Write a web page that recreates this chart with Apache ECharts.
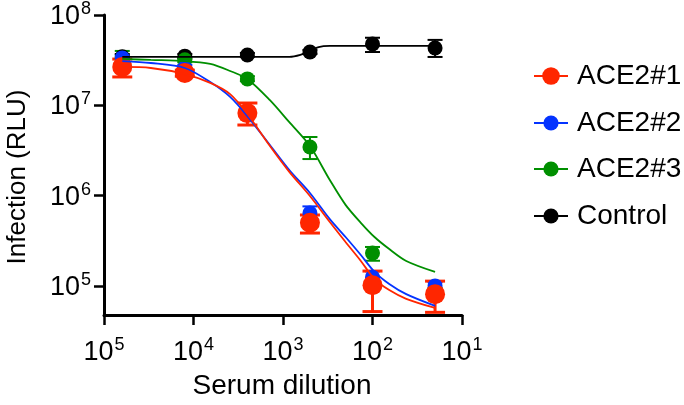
<!DOCTYPE html>
<html><head><meta charset="utf-8">
<script src="https://cdn.jsdelivr.net/npm/echarts@6/dist/echarts.min.js"></script>
<style>html,body{margin:0;padding:0;background:#fff}#c{width:684px;height:405px}</style>
</head><body><div id="c"></div>
<script>
// ---- data ----
var dilutions = [62500, 12500, 2500, 500, 100, 20];

var ace1Mean = [2.66e7, 2.28e7, 8.2e6, 5.0e5, 1.02e5, 8.1e4];
var ace1Lo   = [2.06e7, 2.1e7, 6.05e6, 3.85e5, 5.2e4, 5.1e4];
var ace1Hi   = [3.25e7, 2.45e7, 1.06e7, 6.1e5, 1.46e5, 1.13e5];

var ace2Mean = [3.35e7, 2.6e7, 8.6e6, 6.4e5, 1.25e5, 1.0e5];
var ace2Lo   = [3.0e7, 2.4e7, 7.8e6, 5.6e5, 1.1e5, 9.0e4];
var ace2Hi   = [3.6e7, 2.8e7, 9.4e6, 7.6e5, 1.45e5, 1.1e5];

var ace3Mean = [3.3e7, 3.2e7, 1.96e7, 3.45e6, 2.31e5, 9.0e4];
var ace3Lo   = [2.7e7, 3.0e7, 1.85e7, 2.54e6, 1.9e5, 8.5e4];
var ace3Hi   = [4.0e7, 3.4e7, 2.1e7, 4.46e6, 2.7e5, 9.5e4];

var ctrlMean = [3.45e7, 3.5e7, 3.61e7, 3.89e7, 4.77e7, 4.31e7];
var ctrlLo   = [3.2e7, 3.3e7, 3.45e7, 3.7e7, 3.89e7, 3.43e7];
var ctrlHi   = [3.7e7, 3.7e7, 3.8e7, 4.1e7, 5.6e7, 5.3e7];

// fitted curves
var fitX    = [62500, 30000, 12500, 6500, 3900, 2500, 1400, 850, 500, 300, 200, 135, 95, 65, 42, 20];
var ace1Fit = [2.66e7, 2.59e7, 2.22e7, 1.77e7, 1.33e7, 8.0e6, 3.54e6, 1.83e6, 9.9e5, 5.1e5, 3.06e5, 1.89e5, 1.19e5, 9.0e4, 7.2e4, 5.7e4];
var ace2Fit = [3.09e7, 2.94e7, 2.59e7, 1.81e7, 1.24e7, 7.6e6, 3.63e6, 1.92e6, 1.07e6, 5.5e5, 3.48e5, 2.2e5, 1.43e5, 1.05e5, 8.1e4, 6.0e4];
var ace3Fit = [3.26e7, 3.18e7, 3.09e7, 2.87e7, 2.40e7, 1.96e7, 1.14e7, 6.5e6, 3.54e6, 1.49e6, 7.9e5, 5.0e5, 3.48e5, 2.56e5, 1.89e5, 1.43e5];
var ctrlFitX = [62500, 12500, 2500, 850, 640, 500, 400, 300, 100, 20];
var ctrlFit  = [3.43e7, 3.43e7, 3.43e7, 3.43e7, 3.61e7, 3.99e7, 4.42e7, 4.54e7, 4.54e7, 4.54e7];

var seriesNames = ['ACE2#1', 'ACE2#2', 'ACE2#3', 'Control'];
var xTitle = 'Serum dilution';
var yTitle = 'Infection (RLU)';

// ---- styling ----
var FONT = '"Liberation Sans", Arial, Helvetica, sans-serif';
var colors = {'ACE2#1': '#FF2600', 'ACE2#2': '#0433FF', 'ACE2#3': '#008F00', 'Control': '#000000'};

function zip(a, b) { return a.map(function (v, i) { return [v, b[i]]; }); }
function zip3(a, b, c) { return a.map(function (v, i) { return [v, b[i], c[i]]; }); }

function supLabel(v) {
  var e = Math.round(Math.log(v) / Math.LN10);
  return '{b|10}{s|' + e + '}';
}
var rich = {
  b: {fontSize: 27, fontFamily: FONT, color: '#000', lineHeight: 30, verticalAlign: 'bottom'},
  s: {fontSize: 18, fontFamily: FONT, color: '#000', lineHeight: 30, verticalAlign: 'top', padding: [0, 0, 0, 1]}
};

function errRender(color, capW, lw) {
  return function (params, api) {
    var x = api.value(0), lo = api.value(1), hi = api.value(2);
    var a = api.coord([x, lo]), b = api.coord([x, hi]);
    var h = capW / 2;
    var style = {stroke: color, lineWidth: lw, fill: null};
    return {type: 'group', children: [
      {type: 'line', shape: {x1: a[0], y1: a[1], x2: b[0], y2: b[1]}, style: style},
      {type: 'line', shape: {x1: a[0] - h, y1: a[1], x2: a[0] + h, y2: a[1]}, style: style},
      {type: 'line', shape: {x1: b[0] - h, y1: b[1], x2: b[0] + h, y2: b[1]}, style: style}
    ]};
  };
}

var groups = [
  {name: 'Control', fitX: ctrlFitX, fit: ctrlFit, mean: ctrlMean, lo: ctrlLo, hi: ctrlHi, size: 15, cap: 15, elw: 2},
  {name: 'ACE2#3', fitX: fitX, fit: ace3Fit, mean: ace3Mean, lo: ace3Lo, hi: ace3Hi, size: 15, cap: 15, elw: 2},
  {name: 'ACE2#2', fitX: fitX, fit: ace2Fit, mean: ace2Mean, lo: ace2Lo, hi: ace2Hi, size: 15, cap: 15, elw: 2},
  {name: 'ACE2#1', fitX: fitX, fit: ace1Fit, mean: ace1Mean, lo: ace1Lo, hi: ace1Hi, size: 20, cap: 20, elw: 3}
];

var series = [];
groups.forEach(function (g) {
  var c = colors[g.name];
  series.push({
    type: 'line', name: g.name, data: zip(g.fitX, g.fit), xAxisIndex: 0, yAxisIndex: 0,
    symbol: 'none', smooth: 0.3, silent: true,
    lineStyle: {color: c, width: 1.8}, itemStyle: {color: c}
  });
});
groups.forEach(function (g) {
  var c = colors[g.name];
  series.push({
    type: 'custom', name: g.name + ' err', xAxisIndex: 0, yAxisIndex: 0,
    data: zip3(dilutions, g.lo, g.hi), encode: {x: 0, y: [1, 2]},
    renderItem: errRender(c, g.cap, g.elw), silent: true
  });
  series.push({
    type: 'scatter', name: g.name + ' pts', xAxisIndex: 0, yAxisIndex: 0,
    data: zip(dilutions, g.mean), symbol: 'circle', symbolSize: g.size,
    itemStyle: {color: c, opacity: 1}, silent: true
  });
});

var legendCenters = {'ACE2#1': 73, 'ACE2#2': 120, 'ACE2#3': 166, 'Control': 213};
var legends = seriesNames.map(function (n) {
  return {
    data: [n], left: 528, top: legendCenters[n] - 16, orient: 'vertical',
    itemWidth: 34, itemHeight: n === 'ACE2#1' ? 22 : 19, selectedMode: false,
    formatter: function (name) { return '{a|' + name + '}'; },
    textStyle: {rich: {a: {fontSize: 28, fontFamily: FONT, color: '#000', padding: [0, 0, 0, 4]}}}
  };
});

var option = {
  animation: false,
  backgroundColor: '#fff',
  grid: [
    {left: 104, top: 15, width: 358, height: 300},
    {left: 104, top: 15, width: 358, height: 271}
  ],
  xAxis: [
    {type: 'log', logBase: 10, gridIndex: 0, min: 10, max: 1e5, inverse: true,
     axisLine: {show: true, lineStyle: {color: '#000', width: 3}},
     axisTick: {show: true, length: 10, lineStyle: {color: '#000', width: 2.5}},
     axisLabel: {formatter: supLabel, rich: rich, margin: 21},
     splitLine: {show: false}, minorTick: {show: false}},
    {type: 'value', gridIndex: 1, min: 0, max: 1, show: false}
  ],
  yAxis: [
    {type: 'log', logBase: 10, gridIndex: 0, min: 47643, max: 1e8,
     axisLine: {show: true, lineStyle: {color: '#000', width: 3}},
     axisTick: {show: false}, axisLabel: {show: false}, splitLine: {show: false}},
    {type: 'log', logBase: 10, gridIndex: 1, min: 1e5, max: 1e8,
     axisLine: {show: false},
     axisTick: {show: true, length: 10, lineStyle: {color: '#000', width: 2.5}},
     axisLabel: {formatter: supLabel, rich: rich, margin: 13},
     splitLine: {show: false}}
  ],
  legend: legends,
  graphic: [
    {type: 'text', x: 282, y: 386, style: {text: xTitle, font: '28px ' + FONT, fill: '#000', align: 'center', verticalAlign: 'middle'}},
    {type: 'text', x: 18, y: 177, rotation: Math.PI / 2, style: {text: yTitle, font: '26px ' + FONT, fill: '#000', align: 'center', verticalAlign: 'middle'}}
  ],
  series: series
};
var chart = echarts.init(document.getElementById('c'));
window.chart = chart;
chart.setOption(option);
</script>
</body></html>
